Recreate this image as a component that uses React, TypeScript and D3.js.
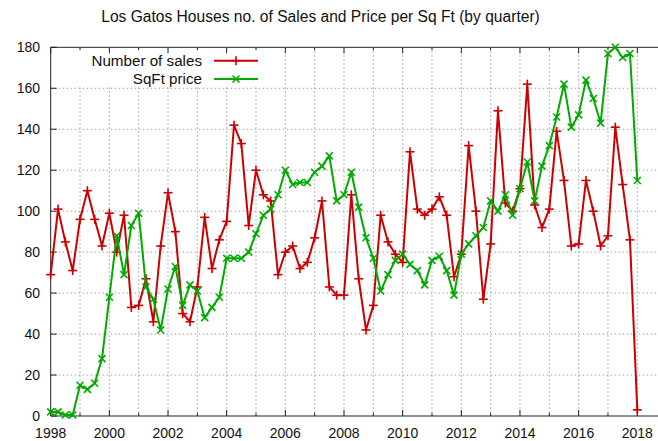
import React from "react";
import * as d3 from "d3";

// Quarterly data, first point = 1998 Q1, last point = 2018 Q1
const startYear = 1998;
const pointsPerYear = 4;

const salesCount = [
  69, 101, 85, 71,
  96, 110, 96, 83,
  99, 80, 98, 53,
  54, 67, 46, 83,
  109, 90, 50, 46,
  63, 97, 72, 86,
  95, 142, 133, 93,
  120, 108, 105, 69,
  80, 83, 72, 75,
  87, 105, 63, 59,
  59, 108, 67, 42,
  54, 98, 85, 79,
  75, 129, 101, 98,
  101, 107, 98, 68,
  79, 132, 100, 57,
  84, 149, 104, 100,
  111, 162, 103, 92,
  101, 139, 115, 83,
  84, 115, 100, 83,
  88, 141, 113, 86,
  3,
];

const sqftPrice = [
  2, 2, 0.5, 0.5,
  15, 13, 16, 28,
  58, 88, 69, 93,
  99, 63, 57, 42,
  62, 73, 54, 64,
  61, 48, 53, 58,
  77, 77, 77, 80,
  89, 98, 101, 108,
  120, 113, 114, 114,
  119, 122, 127, 105,
  108, 119, 102, 87,
  77, 61, 69, 76,
  79, 74, 71, 64,
  76, 78, 71, 59,
  79, 84, 88, 92,
  105, 100, 108, 98,
  111, 124, 105, 122,
  132, 146, 162, 141,
  147, 164, 155, 143,
  177, 180, 175, 177,
  115,
];

const xLabelYears = [1998, 2000, 2002, 2004, 2006, 2008, 2010, 2012, 2014, 2016, 2018];
const xGridYears = d3.range(1998, 2019);
const yTicks = [0, 20, 40, 60, 80, 100, 120, 140, 160, 180];

const titleText = "Los Gatos Houses no. of Sales and Price per Sq Ft (by quarter)";
const seriesNames = ["Number of sales", "SqFt price"];

const RED = "#cc0000";
const GREEN = "#00aa00";
const FONT = "'Liberation Sans', Arial, sans-serif";

export default function App() {
  const W = 658;
  const H = 441;
  const plotLeft = 50.7;
  const plotRight = 660;
  const plotTop = 47.3;
  const plotBottom = 416;

  const x = d3.scaleLinear().domain([1998, 2018]).range([50.7, 637.3]);
  const y = d3.scaleLinear().domain([0, 180]).range([plotBottom, plotTop]);

  const t = (i: number) => startYear + i / pointsPerYear;
  const line = d3
    .line<number>()
    .x((_, i) => x(t(i)))
    .y((d) => y(d));

  const plus = (cx: number, cy: number, key: string, color: string) => (
    <g key={key} stroke={color} strokeWidth={1.6}>
      <line x1={cx - 4.5} x2={cx + 4.5} y1={cy} y2={cy} />
      <line x1={cx} x2={cx} y1={cy - 4.5} y2={cy + 4.5} />
    </g>
  );
  const cross = (cx: number, cy: number, key: string, color: string) => (
    <g key={key} stroke={color} strokeWidth={1.6}>
      <line x1={cx - 3.5} x2={cx + 3.5} y1={cy - 3.5} y2={cy + 3.5} />
      <line x1={cx - 3.5} x2={cx + 3.5} y1={cy + 3.5} y2={cy - 3.5} />
    </g>
  );

  return (
    <svg
      width={W}
      height={H}
      style={{ position: "absolute", left: 0, top: 0, background: "#fff" }}
      fontFamily={FONT}
    >
      <rect x={0} y={0} width={W} height={H} fill="#fff" />
      {/* title */}
      <text x={320.5} y={22} textAnchor="middle" fontSize={15.6} fill="#111">
        {titleText}
      </text>

      {/* grid */}
      <g stroke="#a0a0a0" strokeWidth={1} strokeDasharray="1.5,2.5">
        {yTicks
          .filter((v) => v !== 0 && v !== 180)
          .map((v) => (
            <line key={"gy" + v} x1={plotLeft} x2={plotRight} y1={y(v)} y2={y(v)} />
          ))}
        {xGridYears
          .filter((yr) => yr !== 1998)
          .map((yr) => (
            <line key={"gx" + yr} x1={x(yr)} x2={x(yr)} y1={plotTop} y2={plotBottom} />
          ))}
      </g>

      {/* legend area hides grid */}
      <rect x={56} y={49} width={206} height={38} fill="#fff" />

      {/* border */}
      <g stroke="#222" strokeWidth={1} fill="none">
        <line x1={plotLeft} x2={plotRight} y1={plotTop} y2={plotTop} />
        <line x1={plotLeft} x2={plotRight} y1={plotBottom} y2={plotBottom} />
        <line x1={plotLeft} x2={plotLeft} y1={plotTop} y2={plotBottom} />
      </g>

      {/* ticks */}
      <g stroke="#222" strokeWidth={1}>
        {yTicks.map((v) => (
          <line key={"ty" + v} x1={plotLeft} x2={plotLeft + 6} y1={y(v)} y2={y(v)} />
        ))}
        {xGridYears.map((yr) => {
          const len = yr % 2 === 0 ? 6 : 3;
          return (
            <g key={"tx" + yr}>
              <line x1={x(yr)} x2={x(yr)} y1={plotBottom} y2={plotBottom - len} />
              <line x1={x(yr)} x2={x(yr)} y1={plotTop} y2={plotTop + len} />
            </g>
          );
        })}
      </g>

      {/* tick labels */}
      <g fontSize={14} fill="#111">
        {yTicks.map((v) => (
          <text key={"ly" + v} x={40} y={y(v) + 5} textAnchor="end">
            {v}
          </text>
        ))}
        {xLabelYears.map((yr) => (
          <text key={"lx" + yr} x={x(yr)} y={438} textAnchor="middle">
            {yr}
          </text>
        ))}
      </g>

      {/* series */}
      <path d={line(salesCount) || ""} fill="none" stroke={RED} strokeWidth={2} strokeLinejoin="round" />
      {salesCount.map((v, i) => plus(x(t(i)), y(v), "p" + i, RED))}
      <path d={line(sqftPrice) || ""} fill="none" stroke={GREEN} strokeWidth={2} strokeLinejoin="round" />
      {sqftPrice.map((v, i) => cross(x(t(i)), y(v), "c" + i, GREEN))}

      {/* legend */}
      <g fontSize={15.2} fill="#111">
        <text x={202} y={65.5} textAnchor="end">
          {seriesNames[0]}
        </text>
        <text x={202} y={84} textAnchor="end">
          {seriesNames[1]}
        </text>
      </g>
      <line x1={214} x2={258} y1={60.7} y2={60.7} stroke={RED} strokeWidth={2} />
      {plus(236, 60.7, "legp", RED)}
      <line x1={214} x2={258} y1={79} y2={79} stroke={GREEN} strokeWidth={2} />
      {cross(236, 79, "legc", GREEN)}
    </svg>
  );
}
